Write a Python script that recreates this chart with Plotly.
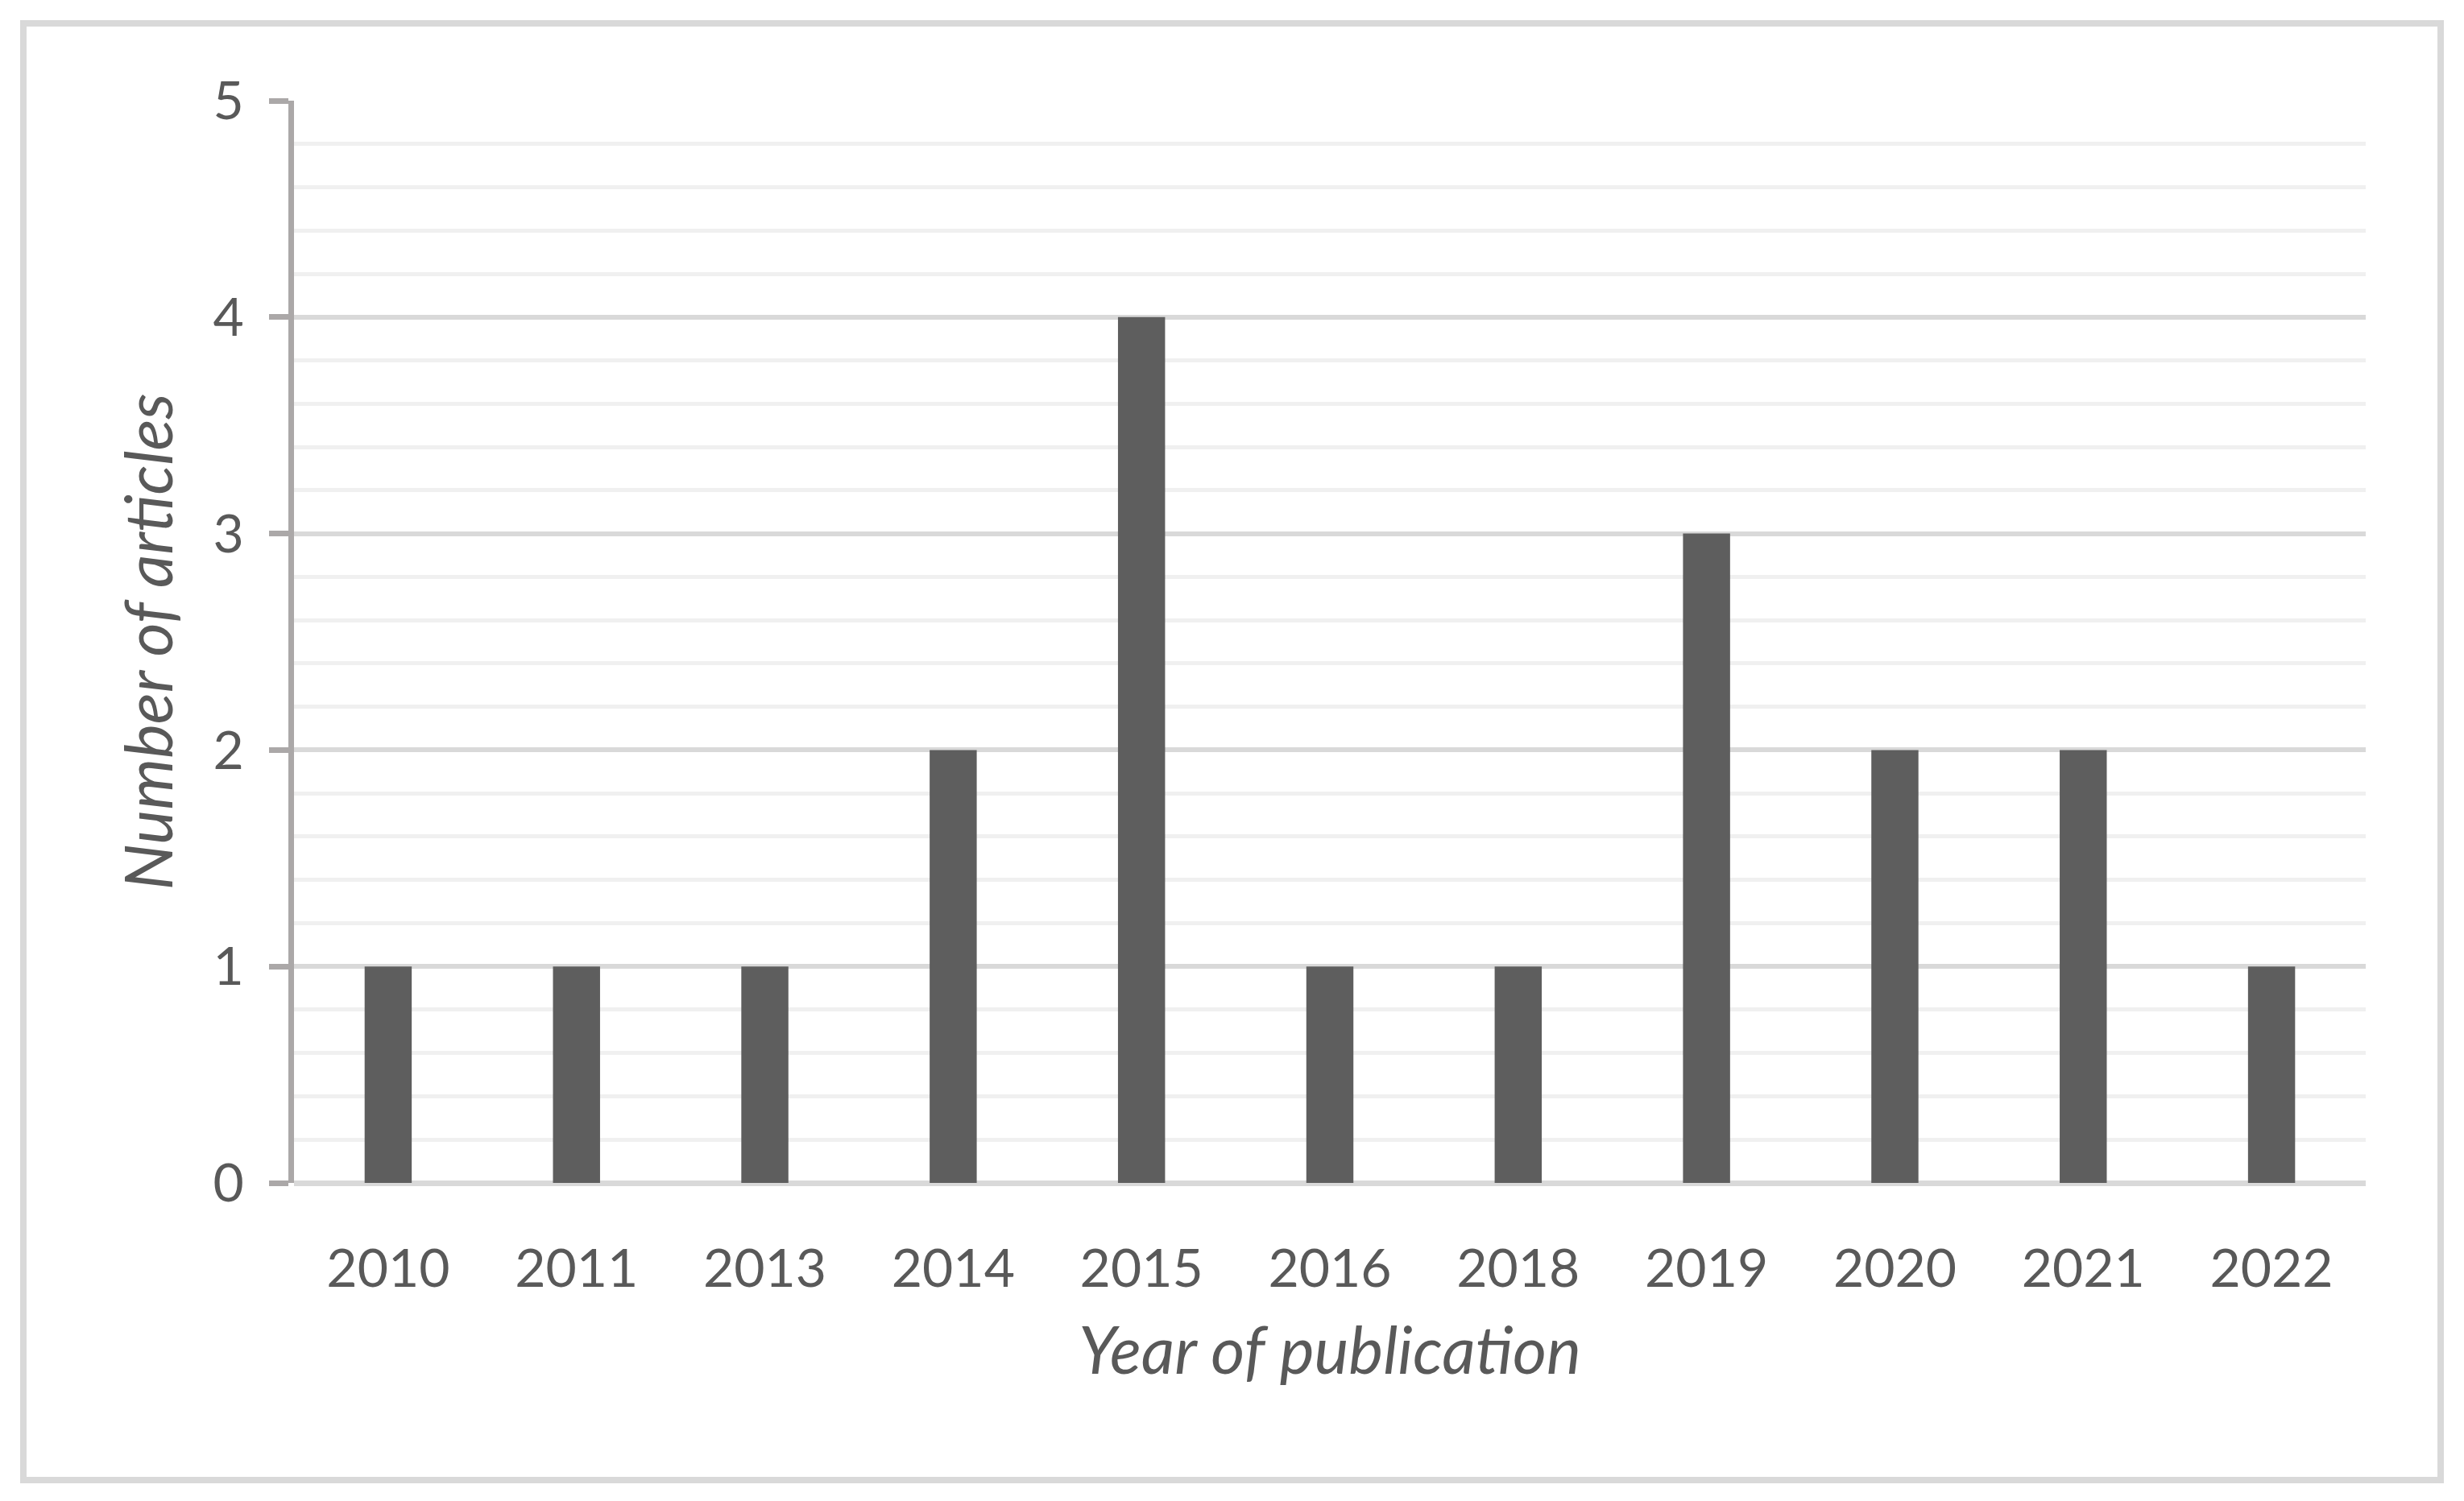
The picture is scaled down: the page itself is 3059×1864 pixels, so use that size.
import plotly.graph_objects as go

years = ["2010", "2011", "2013", "2014", "2015", "2016", "2018", "2019", "2020", "2021", "2022"]
articles = [1, 1, 1, 2, 4, 1, 1, 3, 2, 2, 1]
y_ticks = [0, 1, 2, 3, 4, 5]

# page has an 8px body margin; figure coords = page coords - 8
OFF = 8
W, H = 3059 - 2 * OFF, 1864 - 2 * OFF
L, T = 365 - OFF, 125 - OFF
R = W - (2937 - OFF)
B = H - (1469 - OFF)
pw, ph = W - L - R, H - T - B

FONT = "Lato"
TXT = "#595959"

fig = go.Figure()
fig.add_trace(go.Bar(x=years, y=articles, marker=dict(color="#5e5e5e", line=dict(width=0))))


def px_x(p):
    return (p - OFF - L) / pw


def px_y(p):
    return (H - B - (p - OFF)) / ph


fig.update_layout(
    width=W, height=H,
    margin=dict(l=L, r=R, t=T, b=B),
    paper_bgcolor="white", plot_bgcolor="white",
    bargap=0.75,
    showlegend=False,
    font=dict(family=FONT, color=TXT, size=66),
    xaxis=dict(
        type="category",
        showline=False, showgrid=False, ticks="",
        tickfont=dict(family=FONT, size=66, color=TXT),
        ticklabelstandoff=62,
        title=dict(text="<i>Year of publication</i>", font=dict(family=FONT, size=81, color=TXT), standoff=38),
    ),
    yaxis=dict(
        range=[0, 5], tickvals=y_ticks,
        showline=True, linecolor="#aba8a8", linewidth=7,
        ticks="outside", ticklen=24, tickwidth=7, tickcolor="#aba8a8",
        showgrid=True, gridcolor="#d9d9d9", gridwidth=6,
        zeroline=True, zerolinecolor="#d9d9d9", zerolinewidth=7,
        minor=dict(dtick=0.2, showgrid=True, gridcolor="#f0f0f0", gridwidth=5, ticks=""),
        tickfont=dict(family=FONT, size=66, color=TXT),
        ticklabelstandoff=18,
        title=dict(text="<i>Number of articles</i>", font=dict(family=FONT, size=81, color=TXT), standoff=26),
    ),
    shapes=[dict(
        type="rect", xref="paper", yref="paper",
        x0=px_x(29), x1=px_x(3030), y0=px_y(1838), y1=px_y(29),
        line=dict(color="#d9d9d9", width=8), fillcolor="rgba(0,0,0,0)", layer="below",
    )],
)

fig.write_html("out.html")
